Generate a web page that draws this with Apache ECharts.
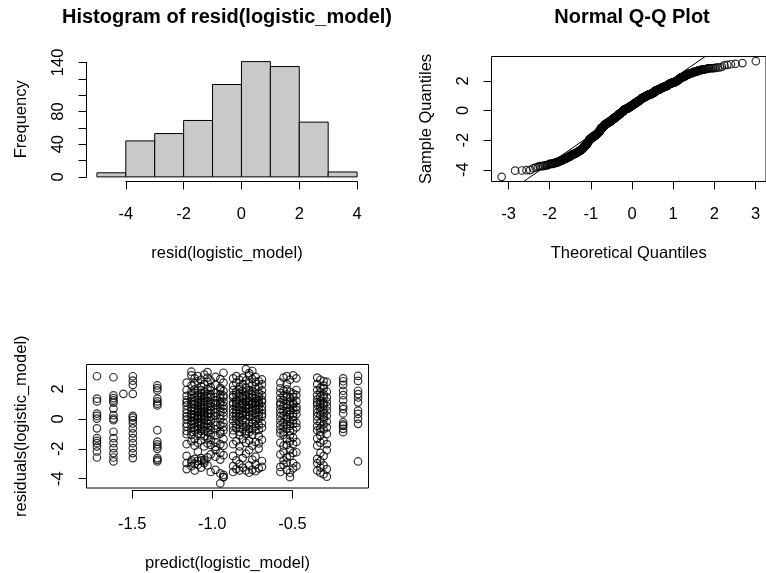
<!DOCTYPE html>
<html><head><meta charset="utf-8">
<script src="https://cdn.jsdelivr.net/npm/echarts@6/dist/echarts.min.js"></script>
<style>html,body{margin:0;padding:0;background:#fff}#c{width:766px;height:573px}</style>
</head><body><div id="c"></div>
<script>
// ---------- data ----------
const histBreaks = [-5, -4, -3, -2, -1, 0, 1, 2, 3, 4];
const histCounts = [5, 44, 53, 69, 113, 141, 135, 67, 6];
const histXTicks = [-4, -2, 0, 2, 4];
const histYTicks = [0, 20, 40, 60, 80, 100, 120, 140];
const histYLabels = [0, 40, 80, 140];
const qqXTicks = [-3, -2, -1, 0, 1, 2, 3];
const qqYTicks = [-4, -2, 0, 2];
const scXTicks = [-1.5, -1.0, -0.5];
const scYTicks = [-4, -2, 0, 2];

// predicted values (one per column of points) and the residuals seen in each column
const predictedX = [-1.72, -1.617, -1.555, -1.496, -1.343,
  -1.16, -1.13, -1.11, -1.09, -1.07, -1.05, -1.03, -1.01, -0.98, -0.95, -0.93,
  -0.87, -0.85, -0.83, -0.81, -0.79, -0.77, -0.75, -0.73, -0.71, -0.69,
  -0.575, -0.555, -0.535, -0.515, -0.495, -0.475,
  -0.345, -0.325, -0.305, -0.285,
  -0.183, -0.09];
const residualColumns = [
  [2.84, 1.31, 1.12, 0.29, 0.13, -0.05, -0.72, -1.39, -1.58, -1.73, -1.96, -2.3, -2.71],
  [2.77, 1.53, 1.35, 1.19, 1.04, 0.63, 0.18, -0.05, -0.16, -0.95, -1.39, -1.73, -2.07, -2.41, -2.71, -2.98],
  [1.64],
  [2.84, 2.54, 2.25, 1.64, 0.13, 0.02, -0.16, -0.39, -0.72, -1.06, -1.39, -1.73, -2.07, -2.41, -2.75],
  [2.21, 2.03, 1.87, 1.31, 1.12, 0.97, 0.85, -0.84, -1.62, -1.81, -1.96, -2.12, -2.75, -2.87, -2.98],
  [2.4, 1.9, 1.5, 1.2, 1.05, 0.85, 0.55, 0.3, 0.1, -0.1, -0.4, -0.6, -0.9, -1.12, -1.8, -2.6, -3.1, -3.5],
  [3.15, 2.9, 2.2, 1.8, 1.6, 1.35, 1.1, 0.95, 0.7, 0.5, 0.25, 0.05, -0.2, -0.45, -0.7, -0.95, -1.17, -1.6, -2.9, -3.05, -3.3],
  [2.7, 2.35, 1.95, 1.7, 1.4, 1.15, 0.9, 0.65, 0.45, 0.2, 0.02, -0.15, -0.35, -0.65, -0.85, -1.45, -1.9, -2.8, -3.15, -3.6],
  [2.85, 2.5, 1.85, 1.55, 1.25, 1.02, 0.8, 0.6, 0.4, 0.15, 0.08, -0.05, -0.3, -0.55, -0.8, -1.1, -1.7, -2.3, -2.95, -3.2],
  [2.6, 2.15, 1.9, 1.65, 1.45, 1.2, 1.05, 0.9, 0.7, 0.45, 0.3, 0.12, -0.25, -0.5, -0.75, -0.9, -1.13, -1.55, -2.75, -2.9, -3.4],
  [2.95, 2.3, 1.75, 1.5, 1.36, 1.08, 0.85, 0.62, 0.38, 0.2, 0.03, -0.12, -0.4, -0.6, -0.88, -1.25, -1.95, -2.85, -2.98, -3.1],
  [3.12, 2.75, 2.45, 1.98, 1.62, 1.38, 1.12, 0.92, 0.75, 0.5, 0.28, 0.1, -0.18, -0.42, -0.68, -0.97, -1.4, -1.75, -2.7, -3.25],
  [2.55, 2.1, 1.88, 1.58, 1.44, 1.03, 0.78, 0.52, 0.33, 0.07, -0.22, -0.58, -0.82, -1.15, -1.5, -1.85, -2.5, -3.7],
  [2.8, 2.25, 1.7, 1.42, 1.18, 1.01, 0.88, 0.58, 0.35, 0.14, -0.28, -0.52, -0.78, -1.2, -1.65, -1.98, -2.2, -2.65, -3.55],
  [2.65, 2.05, 1.92, 1.6, 1.33, 1.07, 0.95, 0.67, 0.42, 0.18, -0.08, -0.48, -0.92, -1.08, -1.8, -2.4, -2.85, -3.8, -4.48],
  [3.08, 2.4, 1.83, 1.52, 1.39, 1.09, 0.82, 0.6, 0.37, 0.11, -0.33, -0.62, -0.86, -1.45, -1.9, -2.55, -3.9, -4.06, -4.03],
  [2.7, 2.2, 1.9, 1.55, 1.4, 1.05, 0.9, 0.6, 0.35, 0.1, -0.2, -0.55, -0.85, -1.14, -1.8, -2.6, -3.3, -3.7],
  [2.85, 2.4, 1.8, 1.6, 1.25, 1.1, 0.95, 0.75, 0.5, 0.3, 0.12, -0.1, -0.45, -0.7, -1.6, -2.9, -3.5],
  [2.6, 2.1, 1.95, 1.7, 1.45, 1.15, 0.85, 0.55, 0.25, 0.05, -0.3, -0.65, -0.95, -1.2, -1.95, -2.3, -3.15, -3.6],
  [2.75, 2.3, 1.85, 1.5, 1.35, 1.02, 0.92, 0.7, 0.45, 0.28, 0.15, -0.15, -0.5, -0.8, -1.45, -2.75, -3.4],
  [3.33, 2.55, 2.05, 1.75, 1.48, 1.2, 1.08, 0.8, 0.62, 0.4, 0.18, -0.25, -0.6, -0.9, -1.1, -1.7, -2.45, -3.6],
  [3.05, 2.9, 2.35, 1.9, 1.65, 1.38, 1.12, 0.88, 0.68, 0.42, 0.08, -0.35, -0.75, -0.98, -1.55, -2.2, -3.25, -3.75],
  [3.2, 2.65, 2.2, 1.82, 1.58, 1.36, 1.04, 0.97, 0.72, 0.48, 0.2, -0.12, -0.4, -0.78, -1.16, -1.9, -2.85, -3.55],
  [2.8, 2.45, 1.97, 1.62, 1.32, 1.06, 0.83, 0.57, 0.32, 0.06, -0.22, -0.58, -0.88, -1.65, -2.65, -3.2, -3.65],
  [2.5, 2.12, 1.72, 1.42, 1.18, 1.01, 0.9, 0.65, 0.38, 0.16, -0.08, -0.48, -0.83, -1.25, -1.75, -2.1, -3.45],
  [2.62, 2.28, 1.88, 1.53, 1.22, 1.09, 0.78, 0.52, 0.27, 0.1, -0.38, -0.68, -1.5, -2.95, -3.35],
  [2.4, 2.02, 1.7, 1.35, 1.05, 0.9, 0.6, 0.35, 0.1, -0.2, -0.5, -0.8, -1.05, -1.7, -2.5, -3.35, -3.7],
  [2.75, 1.85, 1.5, 1.2, 0.8, 0.45, 0.15, -0.3, -0.6, -0.95, -1.15, -1.9, -2.3, -2.9, -3.2],
  [2.85, 2.3, 1.95, 1.6, 1.43, 0.95, 0.7, 0.4, 0.05, -0.1, -0.45, -0.75, -1.45, -1.85, -2.7, -3.05, -3.55],
  [2.6, 1.78, 1.4, 1.1, 0.85, 0.5, 0.2, -0.25, -0.55, -0.9, -1.2, -1.6, -2.2, -2.6, -3.75, -4.05],
  [2.9, 1.65, 1.42, 1.02, 0.92, 0.65, 0.3, 0.08, -0.15, -0.4, -0.85, -1.35, -1.8, -2.4, -3.1, -3.45],
  [2.7, 1.9, 1.55, 1.15, 0.75, 0.55, 0.25, -0.35, -0.65, -1.65, -2.35, -3.3],
  [2.75, 2.3, 1.9, 1.55, 1.25, 1.05, 0.9, 0.6, 0.35, 0.1, -0.2, -0.55, -0.85, -1.4, -1.9, -2.8, -3.1, -3.6],
  [2.6, 2.05, 1.75, 1.45, 1.15, 0.95, 0.7, 0.45, 0.2, -0.3, -0.7, -0.95, -1.2, -1.7, -2.4, -2.95, -3.4, -3.75],
  [2.5, 2.2, 1.98, 1.6, 1.37, 1.02, 0.85, 0.55, 0.3, 0.05, -0.1, -0.45, -0.8, -1.55, -2.6, -3.25, -3.85],
  [2.45, 1.8, 1.4, 1.1, 0.8, 0.5, 0.15, -0.25, -0.65, -1.1, -1.8, -2.2, -3.5, -4.02],
  [2.7, 2.5, 2.25, 1.85, 1.55, 1.2, 0.8, 0.6, 0.3, -0.3, -0.45, -0.55, -0.75, -0.98],
  [2.86, 2.52, 1.85, 1.62, 1.39, 1.06, 0.49, 0.27, -0.07, -0.41, -2.98]
];

// ---------- statistics (R's qqnorm / qqline) ----------
function qnorm(p) {
  const a = [-3.969683028665376e+01, 2.209460984245205e+02, -2.759285104469687e+02, 1.383577518672690e+02, -3.066479806614716e+01, 2.506628277459239e+00];
  const b = [-5.447609879822406e+01, 1.615858368580409e+02, -1.556989798598866e+02, 6.680131188771972e+01, -1.328068155288572e+01];
  const c = [-7.784894002430293e-03, -3.223964580411365e-01, -2.400758277161838e+00, -2.549732539343734e+00, 4.374664141464968e+00, 2.938163982698783e+00];
  const d = [7.784695709041462e-03, 3.224671290700398e-01, 2.445134137142996e+00, 3.754408661907416e+00];
  const pl = 0.02425, ph = 1 - pl;
  let q, r;
  if (p < pl) { q = Math.sqrt(-2 * Math.log(p)); return (((((c[0]*q+c[1])*q+c[2])*q+c[3])*q+c[4])*q+c[5]) / ((((d[0]*q+d[1])*q+d[2])*q+d[3])*q+1); }
  if (p > ph) { q = Math.sqrt(-2 * Math.log(1 - p)); return -(((((c[0]*q+c[1])*q+c[2])*q+c[3])*q+c[4])*q+c[5]) / ((((d[0]*q+d[1])*q+d[2])*q+d[3])*q+1); }
  q = p - 0.5; r = q * q;
  return (((((a[0]*r+a[1])*r+a[2])*r+a[3])*r+a[4])*r+a[5])*q / (((((b[0]*r+b[1])*r+b[2])*r+b[3])*r+b[4])*r+1);
}
function quantile7(sorted, p) {
  const h = (sorted.length - 1) * p, lo = Math.floor(h);
  return sorted[lo] + (h - lo) * ((sorted[Math.min(lo + 1, sorted.length - 1)]) - sorted[lo]);
}
const scatterPts = [];
predictedX.forEach((x, i) => residualColumns[i].forEach(r => scatterPts.push([x, r])));
const allRes = scatterPts.map(p => p[1]).slice().sort((a, b) => a - b);
const n = allRes.length;
const qqPts = allRes.map((y, i) => [qnorm((i + 1 - 0.5) / n), y]);
const q1 = quantile7(allRes, 0.25), q3 = quantile7(allRes, 0.75);
const qqSlope = (q3 - q1) / (qnorm(0.75) - qnorm(0.25));
const qqInt = q1 - qqSlope * qnorm(0.25);

// ---------- layout ----------
const FONT = '"Liberation Sans", Arial, Helvetica, sans-serif';
const TXT = { color: '#000', fontFamily: FONT, fontSize: 16.5 };
const REG = {
  hist: { x0: 86.5, x1: 367.5, y0: 57, y1: 181.5 },
  qq:   { x0: 491.5, x1: 772.5, y0: 56.5, y1: 181.5 },
  sc:   { x0: 86.5, x1: 368.5, y0: 364.5, y1: 490.5 }
};
function ext(lo, hi) { const d = (hi - lo) * 0.04; return [lo - d, hi + d]; }
const resMin = allRes[0], resMax = allRes[n - 1];
const xsMin = Math.min(...predictedX), xsMax = Math.max(...predictedX);
const DOM = {
  hist: { x: ext(histBreaks[0], histBreaks[histBreaks.length - 1]), y: ext(0, Math.max(...histCounts)) },
  qq:   { x: ext(qqPts[0][0], qqPts[n - 1][0]), y: ext(resMin, resMax) },
  sc:   { x: ext(xsMin, xsMax), y: ext(resMin, resMax) }
};

const grids = [], xAxes = [], yAxes = [], series = [];
function addGrid(g) { grids.push(g); return grids.length - 1; }
const hiddenAx = { axisLine: { show: false }, axisTick: { show: false }, axisLabel: { show: false }, splitLine: { show: false } };
function dataPanel(key, boxed, xname, yname, xGap, yGap) {
  const r = REG[key], d = DOM[key];
  const gi = addGrid({ left: r.x0, top: r.y0, width: r.x1 - r.x0, height: r.y1 - r.y0, show: boxed,
    borderColor: '#000', borderWidth: 1, backgroundColor: 'rgba(0,0,0,0)' });
  xAxes.push(Object.assign({ gridIndex: gi, type: 'value', min: d.x[0], max: d.x[1],
    name: xname, nameLocation: 'middle', nameGap: xGap, nameTextStyle: TXT }, hiddenAx));
  yAxes.push(Object.assign({ gridIndex: gi, type: 'value', min: d.y[0], max: d.y[1],
    name: yname, nameLocation: 'middle', nameRotate: 90, nameGap: yGap, nameTextStyle: TXT }, hiddenAx));
  return { xi: xAxes.length - 1, yi: yAxes.length - 1 };
}
const axLine = { show: true, lineStyle: { color: '#000', width: 1 } };
const axTick = { show: true, length: 8, lineStyle: { color: '#000', width: 1 } };
function tickX(key, ticks, fmt, margin) {
  const r = REG[key], d = DOM[key].x;
  const px = v => r.x0 + (v - d[0]) / (d[1] - d[0]) * (r.x1 - r.x0);
  const a = ticks[0], b = ticks[ticks.length - 1];
  const gi = addGrid({ left: px(a), width: px(b) - px(a), top: r.y1 - 20, height: 20 });
  xAxes.push({ gridIndex: gi, type: 'value', min: a, max: b, interval: ticks[1] - ticks[0], position: 'bottom',
    axisLine: axLine, axisTick: axTick, splitLine: { show: false },
    axisLabel: Object.assign({ margin: margin, formatter: fmt }, TXT) });
  yAxes.push({ gridIndex: gi, type: 'value', show: false, min: 0, max: 1 });
}
function tickY(key, ticks, fmt) {
  const r = REG[key], d = DOM[key].y;
  const py = v => r.y1 - (v - d[0]) / (d[1] - d[0]) * (r.y1 - r.y0);
  const a = ticks[0], b = ticks[ticks.length - 1];
  const gi = addGrid({ left: r.x0, width: 20, top: py(b), height: py(a) - py(b) });
  xAxes.push({ gridIndex: gi, type: 'value', show: false, min: 0, max: 1 });
  yAxes.push({ gridIndex: gi, type: 'value', min: a, max: b, interval: ticks[1] - ticks[0], position: 'left',
    axisLine: axLine, axisTick: axTick, splitLine: { show: false },
    axisLabel: Object.assign({ margin: 20, rotate: 90, formatter: fmt }, TXT) });
}

// histogram
const hAx = dataPanel('hist', false, 'resid(logistic_model)', 'Frequency', 63, 57);
tickX('hist', histXTicks, v => String(v), 24);
tickY('hist', histYTicks, v => histYLabels.includes(v) ? String(v) : '');
series.push({
  type: 'custom', xAxisIndex: hAx.xi, yAxisIndex: hAx.yi, clip: false,
  data: histCounts.map((c, i) => [histBreaks[i], histBreaks[i + 1], c]),
  renderItem: (params, api) => {
    const p0 = api.coord([api.value(0), 0]);
    const p1 = api.coord([api.value(1), api.value(2)]);
    return { type: 'rect', shape: { x: p0[0], y: p1[1], width: p1[0] - p0[0], height: p0[1] - p1[1] },
      style: { fill: '#c9c9c9', stroke: '#000', lineWidth: 1 } };
  }
});

// Q-Q plot
const qAx = dataPanel('qq', true, 'Theoretical Quantiles', 'Sample Quantiles', 63, 57);
tickX('qq', qqXTicks, v => String(v), 24);
tickY('qq', qqYTicks, v => String(v));
const circle = { symbol: 'circle', symbolSize: 7.5,
  itemStyle: { color: 'rgba(0,0,0,0)', borderColor: '#000', borderWidth: 1.2 } };
series.push(Object.assign({ type: 'scatter', xAxisIndex: qAx.xi, yAxisIndex: qAx.yi, data: qqPts, clip: false }, circle));
const qx = DOM.qq.x;
series.push({ type: 'line', xAxisIndex: qAx.xi, yAxisIndex: qAx.yi, symbol: 'none', clip: true,
  lineStyle: { color: '#000', width: 1 },
  data: [[qx[0], qqInt + qqSlope * qx[0]], [qx[1], qqInt + qqSlope * qx[1]]] });

// residuals vs predicted
const sAx = dataPanel('sc', true, 'predict(logistic_model)', 'residuals(logistic_model)', 67, 57);
tickX('sc', scXTicks, v => v.toFixed(1), 25);
tickY('sc', scYTicks, v => String(v));
series.push(Object.assign({ type: 'scatter', xAxisIndex: sAx.xi, yAxisIndex: sAx.yi, data: scatterPts, clip: false }, circle));

const chart = echarts.init(document.getElementById('c'), null, { renderer: 'canvas' });
chart.setOption({
  backgroundColor: '#fff',
  animation: false,
  title: [
    { text: 'Histogram of resid(logistic_model)', left: (REG.hist.x0 + REG.hist.x1) / 2, top: 7, textAlign: 'center', padding: 0,
      textStyle: { color: '#000', fontFamily: FONT, fontSize: 20, fontWeight: 'bold' } },
    { text: 'Normal Q-Q Plot', left: (REG.qq.x0 + REG.qq.x1) / 2, top: 7, textAlign: 'center', padding: 0,
      textStyle: { color: '#000', fontFamily: FONT, fontSize: 20, fontWeight: 'bold' } }
  ],
  grid: grids, xAxis: xAxes, yAxis: yAxes, series: series
});
</script></body></html>
